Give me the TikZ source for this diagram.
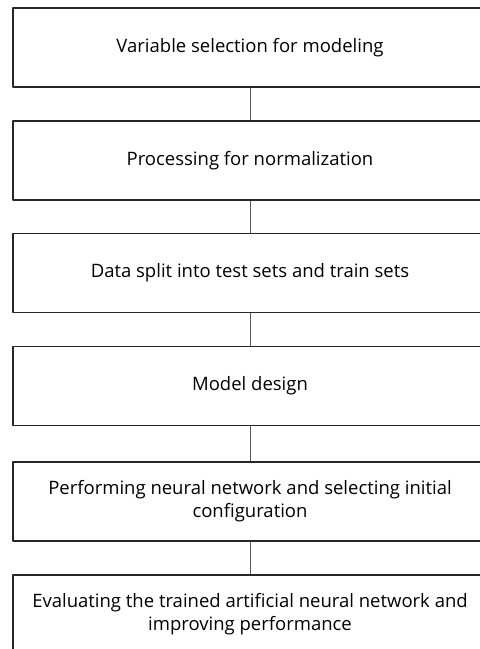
\documentclass[tikz,border=0pt]{standalone}
\usepackage{fontspec}
\setmainfont{Open Sans}
\usetikzlibrary{positioning}
\begin{document}
\begin{tikzpicture}[x=1pt, y=-1pt, font=\fontsize{18.5}{23}\selectfont, line join=round,
    stage/.style={draw=black!85, line width=1.3pt, minimum width=474pt, minimum height=79pt, align=center, inner sep=0pt},
    link/.style={draw=black!65, line width=0.9pt}]
    \useasboundingbox (0,0) rectangle (480,649);
    \clip (0,0) rectangle (480,649);
    % stages of the procedure, top to bottom
    \node[stage] (s1) at (250,47.5) {Variable selection for modeling};
    \node[stage] (s2) at (250,160.5) {Processing for normalization};
    \node[stage] (s3) at (250,273) {Data split into test sets and train sets};
    \node[stage] (s4) at (250,386) {Model design};
    \node[stage] (s5) at (250,501.5) {Performing neural network and selecting initial\\configuration};
    \node[stage] (s6) at (250,614.5) {Evaluating the trained artificial neural network and\\improving performance};
    \foreach \a/\b in {s1/s2,s2/s3,s3/s4,s4/s5,s5/s6}
        \draw[link] (\a) -- (\b);
\end{tikzpicture}
\end{document}
